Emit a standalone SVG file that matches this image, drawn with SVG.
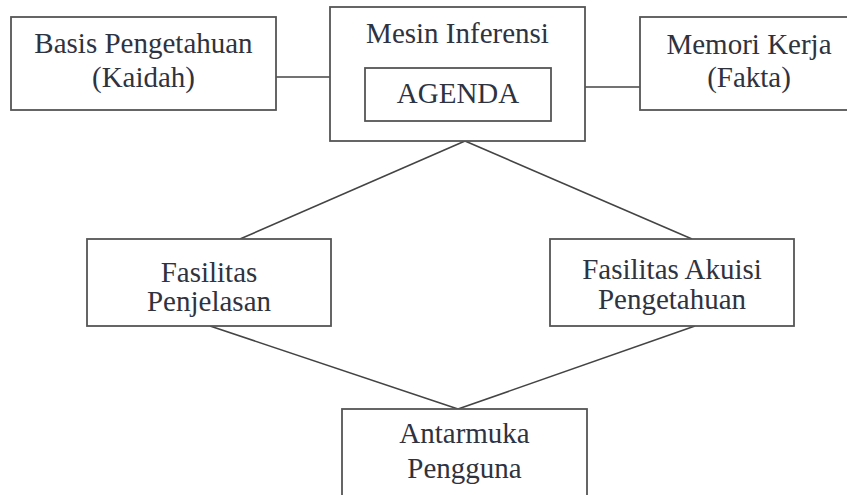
<svg xmlns="http://www.w3.org/2000/svg" width="847" height="495" viewBox="0 0 847 495">
<rect width="847" height="495" fill="#fff"/>
<g id="connectors" stroke="#444" stroke-width="1.6" fill="none">
<line x1="276" y1="77" x2="330" y2="77"/>
<line x1="585" y1="87" x2="640" y2="87"/>
<line x1="465" y1="141" x2="240" y2="239"/>
<line x1="465" y1="141" x2="692" y2="239"/>
<line x1="210" y1="326" x2="458" y2="409"/>
<line x1="695" y1="326" x2="458" y2="409"/>
</g>
<g id="basis">
<rect x="11" y="17" width="265" height="93" fill="#fff" stroke="#555" stroke-width="1.8"/>
<text font-family="Liberation Serif" font-size="29" fill="#2f3340" text-anchor="middle" x="143.5" y="53">Basis Pengetahuan</text>
<text font-family="Liberation Serif" font-size="29" fill="#2f3340" text-anchor="middle" x="143.5" y="87">(Kaidah)</text>
</g>
<g id="mesin">
<rect x="330" y="7" width="255" height="134" fill="#fff" stroke="#555" stroke-width="1.8"/>
<text font-family="Liberation Serif" font-size="29" fill="#2f3340" text-anchor="middle" x="457.5" y="43">Mesin Inferensi</text>
</g>
<g id="agenda">
<rect x="365" y="68" width="186" height="53" fill="#fff" stroke="#555" stroke-width="1.8"/>
<text font-family="Liberation Serif" font-size="29" fill="#2f3340" text-anchor="middle" x="458" y="103">AGENDA</text>
</g>
<g id="memori">
<rect x="640" y="17" width="220" height="93" fill="#fff" stroke="#555" stroke-width="1.8"/>
<text font-family="Liberation Serif" font-size="29" fill="#2f3340" text-anchor="middle" x="749" y="54">Memori Kerja</text>
<text font-family="Liberation Serif" font-size="29" fill="#2f3340" text-anchor="middle" x="749" y="87">(Fakta)</text>
</g>
<g id="penjelasan">
<rect x="87" y="239" width="244" height="87" fill="#fff" stroke="#555" stroke-width="1.8"/>
<text font-family="Liberation Serif" font-size="29" fill="#2f3340" text-anchor="middle" x="209" y="282">Fasilitas</text>
<text font-family="Liberation Serif" font-size="29" fill="#2f3340" text-anchor="middle" x="209" y="311">Penjelasan</text>
</g>
<g id="akuisi">
<rect x="550" y="239" width="244" height="87" fill="#fff" stroke="#555" stroke-width="1.8"/>
<text font-family="Liberation Serif" font-size="29" fill="#2f3340" text-anchor="middle" x="672" y="279">Fasilitas Akuisi</text>
<text font-family="Liberation Serif" font-size="29" fill="#2f3340" text-anchor="middle" x="672" y="309">Pengetahuan</text>
</g>
<g id="antarmuka">
<rect x="342" y="409" width="245" height="100" fill="#fff" stroke="#555" stroke-width="1.8"/>
<text font-family="Liberation Serif" font-size="29" fill="#2f3340" text-anchor="middle" x="464.5" y="443">Antarmuka</text>
<text font-family="Liberation Serif" font-size="29" fill="#2f3340" text-anchor="middle" x="464.5" y="478">Pengguna</text>
</g>
</svg>
